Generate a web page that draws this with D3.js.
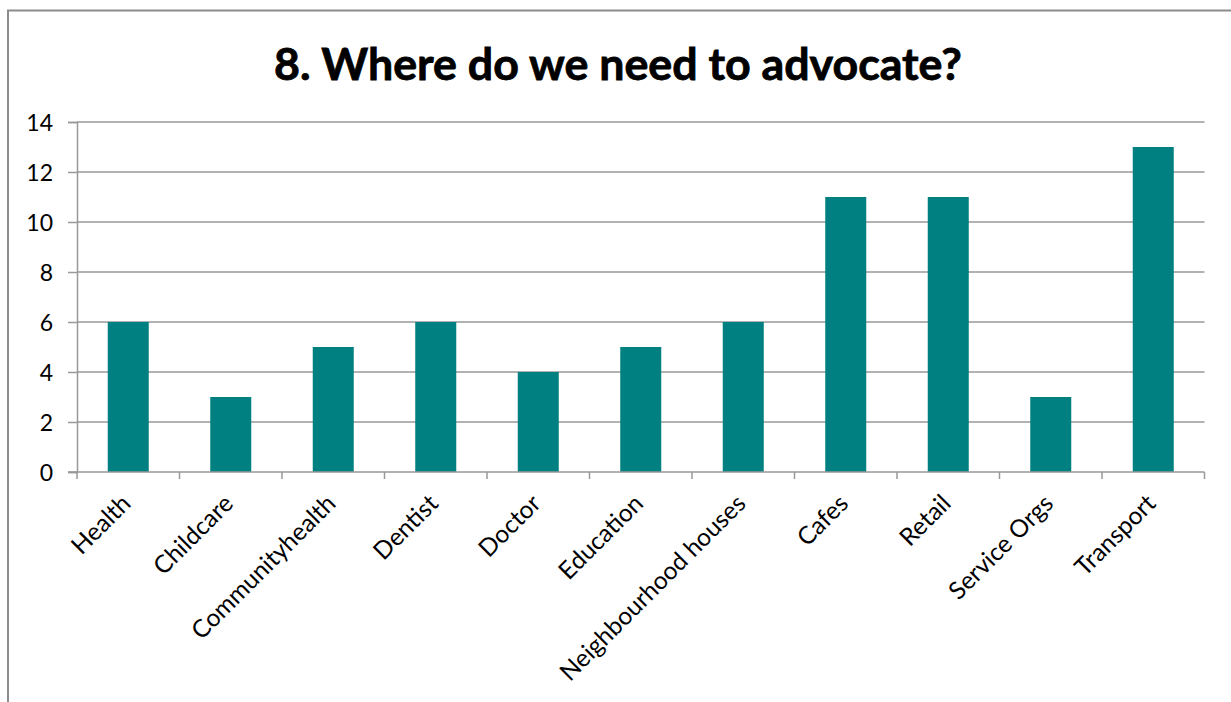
<!DOCTYPE html>
<html>
<head>
<meta charset="utf-8">
<script src="https://cdn.jsdelivr.net/npm/d3@7"></script>
<style>
  html, body { margin: 0; padding: 0; background: #fff; }
  svg { display: block; }
</style>
</head>
<body>
<script>
const categories = ["Health", "Childcare", "Communityhealth", "Dentist", "Doctor", "Education", "Neighbourhood houses", "Cafes", "Retail", "Service Orgs", "Transport"];
const values = [6, 3, 5, 6, 4, 5, 6, 11, 11, 3, 13];
const yTicks = [0, 2, 4, 6, 8, 10, 12, 14];
const titleText = "8. Where do we need to advocate?";

const W = 1231, H = 702;
const plot = { left: 77, right: 1204.5, top: 122, bottom: 472 };

const svg = d3.select("body").append("svg").attr("width", W).attr("height", H);

// outer chart border (only top and left visible)
svg.append("path")
  .attr("d", `M8,${H} L8,10.5 L${W},10.5`)
  .attr("fill", "none").attr("stroke", "#8c8c8c").attr("stroke-width", 2);

const x = d3.scaleBand().domain(categories).range([plot.left, plot.right]).paddingInner(0).paddingOuter(0);
const y = d3.scaleLinear().domain([0, 14]).range([plot.bottom, plot.top]);

// gridlines
svg.append("g").selectAll("line").data(yTicks.filter(d => d > 0)).join("line")
  .attr("x1", plot.left).attr("x2", plot.right)
  .attr("y1", d => y(d)).attr("y2", d => y(d))
  .attr("stroke", "#999").attr("stroke-width", 1.5);

// bars
const bw = x.bandwidth() * 0.4;
svg.append("g").selectAll("rect").data(values).join("rect")
  .attr("x", (d, i) => x(categories[i]) + (x.bandwidth() - bw) / 2)
  .attr("width", bw)
  .attr("y", d => y(d))
  .attr("height", d => y(0) - y(d))
  .attr("fill", "#008080");

// y axis
const yAxis = d3.axisLeft(y).tickValues(yTicks).tickSize(9).tickPadding(15).tickFormat(d3.format("d"));
const gy = svg.append("g").attr("transform", `translate(${plot.left},0)`).call(yAxis);
gy.select(".domain").attr("stroke", "#999").attr("stroke-width", 1.5);
gy.selectAll(".tick line").attr("stroke", "#999").attr("stroke-width", 1.5);
gy.selectAll(".tick text").attr("font-family", "Lato, sans-serif").attr("font-size", 23).attr("fill", "#000").attr("dy", "0.36em");

// x axis line + ticks at category boundaries
svg.append("line").attr("x1", plot.left - 9).attr("x2", plot.right)
  .attr("y1", y(0)).attr("y2", y(0)).attr("stroke", "#999").attr("stroke-width", 1.5);
const bounds = categories.map(c => x(c)).concat([plot.right]);
svg.append("g").selectAll("line").data(bounds).join("line")
  .attr("x1", d => d).attr("x2", d => d)
  .attr("y1", y(0)).attr("y2", y(0) + 7)
  .attr("stroke", "#999").attr("stroke-width", 1.5);

// x labels
svg.append("g").selectAll("text").data(categories).join("text")
  .attr("transform", d => `translate(${x(d) + x.bandwidth() / 2 + 4},${y(0) + 33}) rotate(-45)`)
  .attr("text-anchor", "end")
  .attr("font-family", "Lato, sans-serif").attr("font-size", 24.5).attr("fill", "#000")
  .text(d => d);

// title
const title = svg.append("text")
  .attr("x", 618).attr("y", 80)
  .attr("text-anchor", "middle")
  .attr("font-family", "Lato, sans-serif").attr("font-weight", "bold")
  .attr("font-size", 50).attr("fill", "#000")
  .attr("stroke", "#000").attr("stroke-width", 0.8)
  .text(titleText);
const tw = title.node().getComputedTextLength();
title.attr("font-size", 50 * 688 / tw);
</script>
</body>
</html>
